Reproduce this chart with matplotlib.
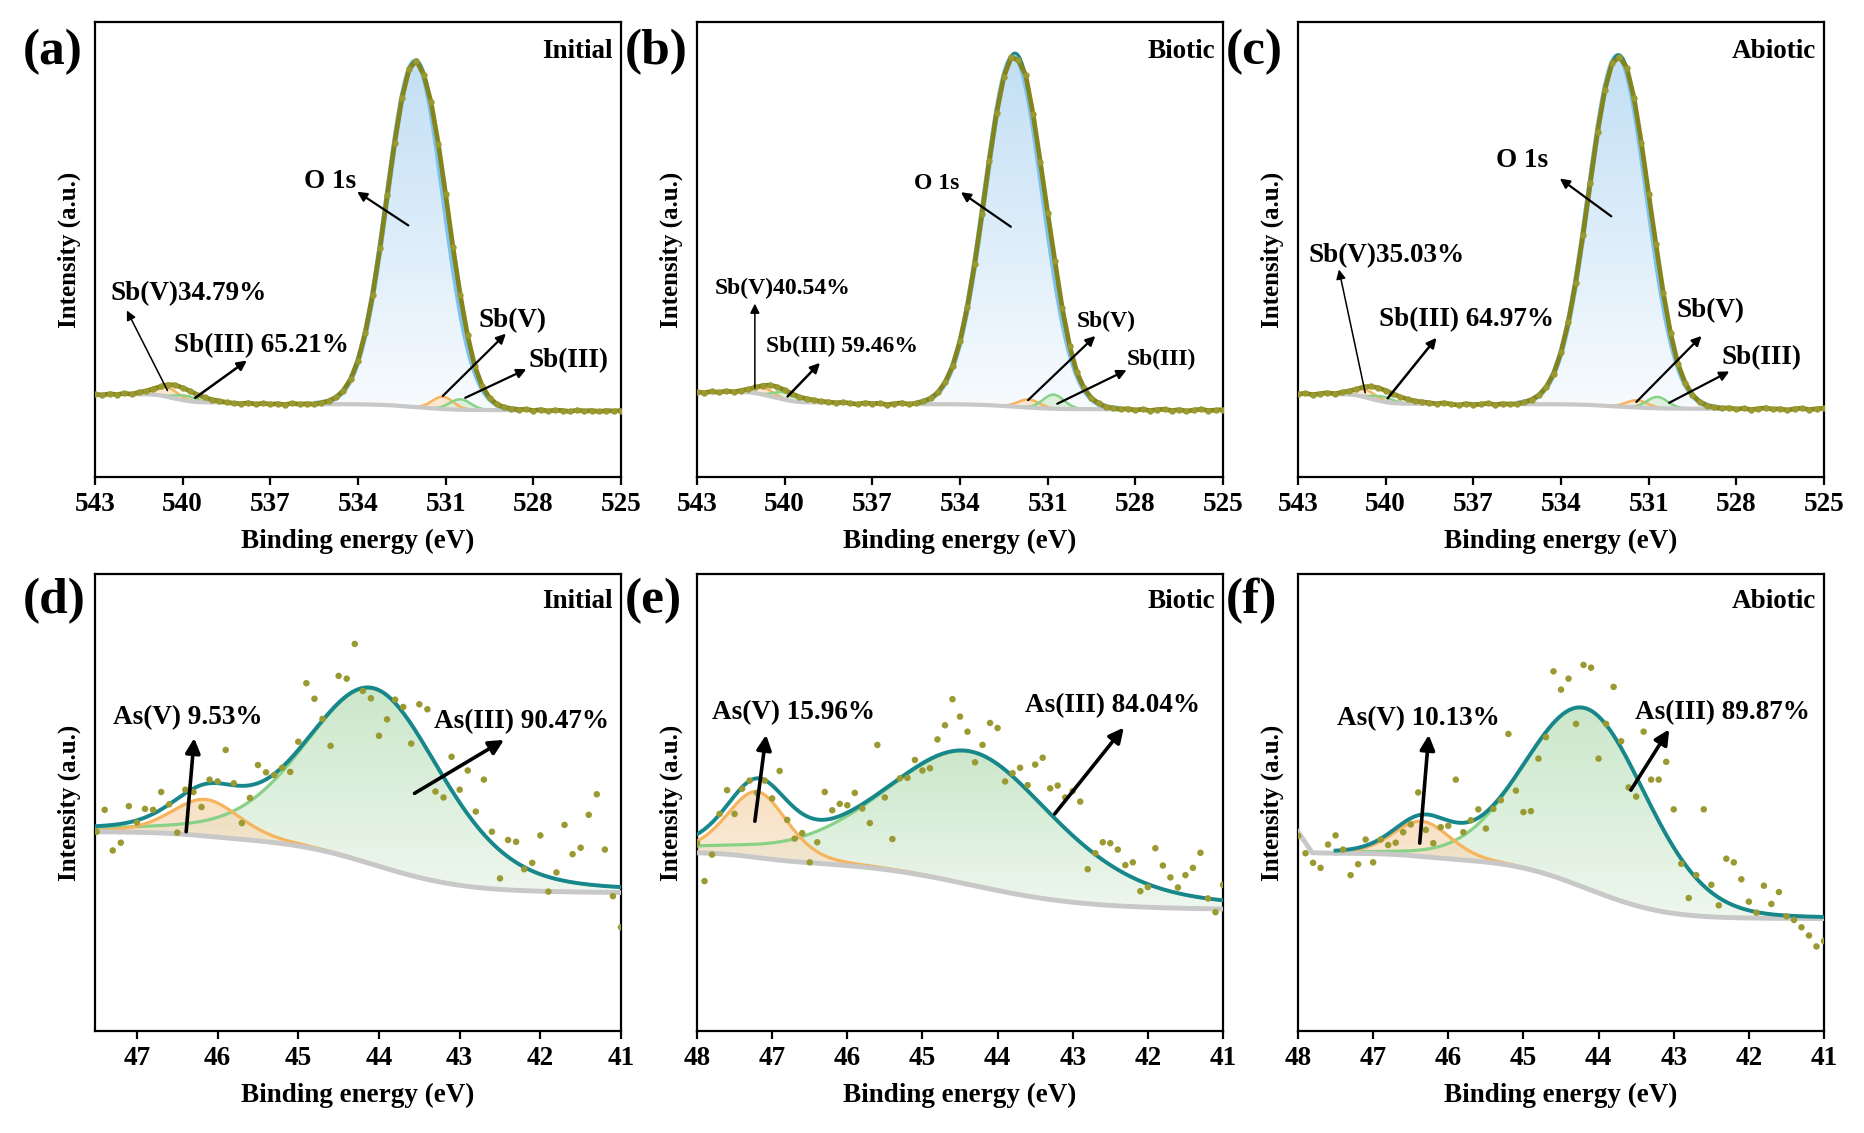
import numpy as np
import matplotlib
matplotlib.use('Agg')
import matplotlib.pyplot as plt
from matplotlib.patches import Polygon
from matplotlib.colors import to_rgba

plt.rcParams['font.family'] = ['Liberation Serif', 'DejaVu Serif']
plt.rcParams['font.weight'] = 'bold'
plt.rcParams['axes.labelweight'] = 'bold'

# ====================== DATA ======================
# ---- top row: Sb 3d / O 1s ----
sb_conditions = ['Initial', 'Biotic', 'Abiotic']
sb_panel_labels = ['(a)', '(b)', '(c)']
sb_xticks = [543, 540, 537, 534, 531, 528, 525]
sb_energy = np.arange(543.0, 524.99, -0.25)          # measured energies (eV)

sb_raw_a = [18.2, 18.0, 18.3, 18.1, 18.4, 18.2, 18.6, 18.9, 19.4, 19.9,
            20.3, 20.2, 19.6, 18.9, 18.1, 17.5, 17.0, 16.7, 16.4, 16.2,
            16.1, 16.3, 16.0, 16.2, 16.0, 16.1, 15.9, 16.2, 16.0, 16.1,
            16.0, 16.3, 16.7,
            17.5, 19.0, 21.5, 25.6, 31.7, 40.0, 50.3, 61.9, 73.4, 83.2,
            89.7, 91.5, 88.4, 82.4, 73.2, 62.1, 50.5, 40.0, 31.1, 24.3,
            20.0, 17.4, 16.0, 15.3, 15.0, 14.8, 14.9, 14.6, 14.8, 14.5,
            14.7, 14.6, 14.4, 14.7, 14.5, 14.6, 14.4, 14.6, 14.5, 14.6]
sb_raw_b = [18.7, 18.5, 18.8, 18.6, 18.9, 18.7, 19.0, 19.3, 19.7, 20.1,
            20.2, 19.8, 19.1, 18.3, 17.6, 17.2, 16.9, 16.6, 16.5, 16.3,
            16.4, 16.2, 16.0, 16.3, 16.1, 16.2, 15.9, 16.1, 16.3, 16.0,
            16.2, 16.6, 17.3,
            18.6, 20.9, 24.4, 29.8, 37.3, 46.8, 57.8, 69.4, 80.0, 88.0,
            92.2, 91.6, 88.3, 79.8, 69.2, 58.1, 47.4, 37.1, 28.9, 23.0,
            19.5, 17.3, 16.2, 15.4, 15.1, 14.9, 15.0, 14.7, 14.9, 14.6,
            14.8, 14.9, 14.6, 14.8, 14.5, 14.7, 14.9, 14.6, 14.7, 14.8]
sb_raw_c = [18.2, 18.4, 18.1, 18.3, 18.5, 18.3, 18.6, 18.9, 19.3, 19.8,
            19.9, 19.6, 19.0, 18.3, 17.6, 17.1, 16.7, 16.5, 16.3, 16.1,
            16.3, 16.0, 15.8, 16.1, 15.9, 16.0, 16.2, 15.9, 16.1, 16.0,
            16.1, 16.4, 17.0,
            18.0, 19.8, 22.7, 27.4, 34.0, 42.7, 53.2, 64.7, 75.9, 85.1,
            91.0, 92.3, 90.0, 83.3, 73.5, 62.2, 51.1, 40.5, 31.6, 24.9,
            20.7, 18.0, 16.5, 15.7, 15.3, 15.1, 15.2, 14.9, 15.1, 14.8,
            15.0, 15.2, 14.9, 15.0, 14.7, 15.0, 15.1, 14.8, 15.0, 15.1]

# fitted peak parameters (center eV, height, FWHM eV)
o1s_center = [532.03, 532.15, 532.05]
o1s_height = [76.0, 77.0, 77.0]
o1s_fwhm = [2.28, 2.35, 2.35]
sb5_52_center = [531.10, 531.65, 531.40]
sb5_52_height = [2.7, 1.8, 1.6]
sb3_52_center = [530.50, 530.80, 530.70]
sb3_52_height = [2.3, 3.1, 2.5]
sb5_32_center = [540.50, 540.75, 540.70]
sb5_32_height = [2.0, 1.6, 1.7]
sb3_32_center = [539.90, 540.00, 540.10]
sb3_32_height = [1.1, 1.6, 1.1]
sb_fwhm = [0.85, 0.85, 0.85]
o_bg_high = [16.0, 16.0, 16.0]
o_bg_low = [14.7, 14.9, 15.0]
sb32_bg_high = [18.2, 18.7, 18.2]
sb32_bg_low = [16.4, 16.4, 16.1]

sb_annot_text = [['O 1s', 'Sb(V)34.79%', 'Sb(III) 65.21%', 'Sb(V)', 'Sb(III)'],
                 ['O 1s', 'Sb(V)40.54%', 'Sb(III) 59.46%', 'Sb(V)', 'Sb(III)'],
                 ['O 1s', 'Sb(V)35.03%', 'Sb(III) 64.97%', 'Sb(V)', 'Sb(III)']]

# ---- bottom row: As 3d ----
as_conditions = ['Initial', 'Biotic', 'Abiotic']
as_panel_labels = ['(d)', '(e)', '(f)']
as_energy_d = np.arange(47.5, 40.95, -0.1)
as_energy_ef = np.arange(48.0, 40.95, -0.1)
as_raw_d = [43.6, 48.4, 39.5, 41.2, 49.2, 45.6, 48.6, 48.4, 52.3, 49.6,
            43.4, 52.8, 52.3, 49.0, 55.0, 54.6, 61.5, 54.2, 45.5, 51.0,
            58.2, 56.6, 56.0, 57.6, 56.7, 63.3, 76.1, 72.7, 68.3, 62.4,
            77.7, 77.1, 84.7, 74.4, 72.8, 64.6, 68.2, 72.5, 70.9, 62.9,
            71.5, 70.4, 52.4, 51.1, 60.0, 52.8, 57.0, 48.0, 55.0, 43.6,
            33.4, 41.8, 41.4, 35.4, 36.8, 42.8, 30.5, 34.7, 45.1, 38.7,
            40.1, 47.3, 51.8, 39.7, 29.5, 22.7]
as_raw_e = [41.1, 32.8, 38.6, 47.5, 52.7, 47.5, 53.0, 54.8, 52.1, 54.8,
            50.9, 56.9, 46.2, 42.1, 43.3, 36.9, 41.3, 52.3, 48.3, 49.7,
            49.4, 52.1, 48.7, 45.5, 62.6, 51.1, 42.0, 55.3, 55.4, 59.3,
            57.0, 57.5, 63.8, 66.9, 72.6, 68.8, 65.5, 58.8, 62.6, 67.4,
            66.3, 54.6, 56.4, 57.6, 53.8, 58.3, 59.8, 53.1, 53.7, 51.1,
            52.5, 50.2, 35.4, 38.9, 41.3, 41.1, 39.7, 36.3, 36.9, 30.6,
            31.5, 40.0, 36.2, 33.6, 31.4, 34.1, 35.7, 39.0, 29.0, 26.0,
            32.0]
as_raw_f = [42.7, 38.9, 36.8, 35.7, 40.8, 42.8, 39.7, 34.1, 36.5, 41.9,
            36.9, 41.9, 40.7, 41.2, 43.5, 45.2, 52.2, 44.0, 41.1, 44.6,
            44.9, 55.0, 43.5, 46.1, 48.5, 44.3, 48.6, 50.5, 65.0, 52.6,
            47.9, 48.1, 59.6, 64.3, 78.7, 74.7, 77.1, 67.2, 80.1, 79.5,
            59.6, 67.2, 75.3, 63.4, 53.3, 51.3, 65.5, 55.0, 55.0, 58.9,
            48.5, 36.6, 29.1, 34.1, 48.5, 32.0, 27.5, 37.7, 36.9, 33.2,
            28.3, 25.9, 31.8, 27.8, 30.4, 25.1, 24.3, 22.7, 20.9, 18.5,
            19.7]
as_xticks = [[47, 46, 45, 44, 43, 42, 41],
             [48, 47, 46, 45, 44, 43, 42, 41],
             [48, 47, 46, 45, 44, 43, 42, 41]]
# leading stub of the background line in panel (f)
f_bg_stub_x = [48.0, 47.81, 47.5]
f_bg_stub_y = [43.6, 39.0, 38.9]

# As fit parameters (center, height, FWHM, Lorentzian fraction)
as5_center = [46.15, 47.20, 46.35]
as5_height = [8.0, 14.4, 7.7]
as5_fwhm = [1.0, 0.95, 0.9]
as5_mix = [0.3, 0.3, 0.2]
as3_center = [44.05, 44.35, 44.15]
as3_height = [38.5, 29.1, 39.3]
as3_fwhm = [2.0, 2.7, 1.9]
as3_mix = [0.3, 0.4, 0.1]
as_bg_high = [43.6, 39.0, 38.9]
as_bg_low = [30.3, 26.7, 24.6]
as_annot_text = [['As(V) 9.53%', 'As(III) 90.47%'],
                 ['As(V) 15.96%', 'As(III) 84.04%'],
                 ['As(V) 10.13%', 'As(III) 89.87%']]

# ====================== LAYOUT / STYLE ======================
W, H = 1865, 1133
top_lefts = [95, 697, 1298]
ax_w = 526
top_y0, top_y1 = 22, 477
bot_y0, bot_y1 = 574, 1031
sb_xlim = (543, 525)
as_xlims = [(47.52, 41), (48, 41), (48, 41)]
as_fit_hi = [47.52, 48.0, 47.5]

# annotation layout: text position, arrow tail, arrow head
sb_annot_pos = [
    [((535.84, 64.9), (532.28, 55.3), (534.03, 62.7)),
     ((542.47, 40.2), (540.52, 19.0), (541.91, 36.6)),
     ((540.31, 28.8), (539.57, 17.4), (537.80, 25.6)),
     ((529.88, 34.3), (531.10, 17.8), (528.94, 31.5)),
     ((528.17, 25.6), (530.33, 17.4), (528.24, 23.7))],
    [((535.58, 64.4), (532.26, 55.0), (533.97, 62.6)),
     ((542.39, 41.4), (541.02, 19.6), (541.02, 38.1)),
     ((540.63, 28.7), (539.90, 17.7), (538.79, 25.1)),
     ((530.02, 34.2), (531.67, 16.9), (529.37, 31.0)),
     ((528.30, 25.9), (530.67, 16.1), (528.30, 23.5))],
    [((536.23, 69.5), (532.28, 57.3), (534.04, 65.6)),
     ((542.65, 48.7), (540.70, 18.5), (541.60, 45.6)),
     ((540.24, 34.6), (539.93, 17.3), (538.26, 30.6)),
     ((530.05, 36.5), (531.42, 16.5), (529.19, 31.0)),
     ((528.52, 26.3), (530.30, 16.3), (528.24, 23.2))]]
sb_annot_lw = [1.6, 1.1, 1.8, 1.6, 1.6]
sb_annot_fs = [19.5, 17.0, 19.5]

as_annot_pos = [
    [((47.30, 68.5), (46.39, 43.6), (46.29, 64.1)),
     ((43.32, 67.7), (43.56, 52.0), (42.45, 63.7))],
    [((47.80, 69.6), (47.23, 45.9), (47.08, 64.8)),
     ((43.63, 71.3), (43.24, 47.5), (42.32, 66.4))],
    [((47.48, 68.4), (46.38, 41.1), (46.26, 64.8)),
     ((43.51, 69.6), (43.57, 52.7), (43.06, 66.0))]]

C_RAW = '#84841c'
C_RAW_M = '#9a9a30'
C_ENV = '#17878c'
C_BLUE = '#7cc2ef'
C_OR = '#f7b45e'
C_GR = '#88d288'
C_GRAY = '#c8c8c8'


def gl(x, c, h, fwhm, m=0.0):
    u = 2.0 * (x - c) / fwhm
    return h * ((1 - m) * np.exp(-np.log(2) * u ** 2) + m / (1 + u ** 2))


def shirley(x_asc, peaks, low, high):
    seg = 0.5 * (peaks[1:] + peaks[:-1]) * np.diff(x_asc)
    cum = np.concatenate([[0.0], np.cumsum(seg)])
    return low + (high - low) * cum / cum[-1]


def grad_fill(ax, x, ytop, ybot, ctop, cbot, z, alpha=1.0):
    verts = np.column_stack([np.concatenate([x, x[::-1]]),
                             np.concatenate([ytop, ybot[::-1]])])
    poly = Polygon(verts, closed=True, facecolor='none', edgecolor='none')
    ax.add_patch(poly)
    n = 256
    c1 = np.array(to_rgba(ctop))
    c2 = np.array(to_rgba(cbot))
    t = np.linspace(1, 0, n)[:, None]
    img = (c1 * t + c2 * (1 - t))[:, None, :]
    im = ax.imshow(img, extent=[x.min(), x.max(), ybot.min(), ytop.max()],
                   origin='upper', aspect='auto', zorder=z, alpha=alpha,
                   interpolation='bilinear')
    im.set_clip_path(poly)


def frame(ax, xticks, xlim):
    for s in ax.spines.values():
        s.set_linewidth(1.6)
    ax.set_xticks(xticks)
    ax.set_xticklabels([str(t) for t in xticks])
    ax.set_yticks([])
    ax.tick_params(axis='x', direction='out', length=6, width=1.6,
                   labelsize=19.5, pad=5)
    ax.set_xlim(*xlim)
    ax.set_ylim(0, 100)
    ax.set_xlabel('Binding energy (eV)', fontsize=19.5, labelpad=8)
    ax.set_ylabel('Intensity (a.u.)', fontsize=18, labelpad=10)


fig = plt.figure(figsize=(W / 100, H / 100), dpi=100)

# ====================== TOP ROW ======================
sb_raws = [sb_raw_a, sb_raw_b, sb_raw_c]
for i in range(3):
    l = top_lefts[i]
    ax = fig.add_axes([l / W, 1 - top_y1 / H, ax_w / W, (top_y1 - top_y0) / H])

    # O 1s + Sb 3d5/2 region
    xf = np.linspace(528.6, 535.4, 600)
    o = gl(xf, o1s_center[i], o1s_height[i], o1s_fwhm[i])
    s5 = gl(xf, sb5_52_center[i], sb5_52_height[i], sb_fwhm[i])
    s3 = gl(xf, sb3_52_center[i], sb3_52_height[i], sb_fwhm[i])
    bg = shirley(xf, o + s5 + s3, o_bg_low[i], o_bg_high[i])
    grad_fill(ax, xf, bg + o, bg, '#c2dff5', '#f8fbfe', 1)
    ax.fill_between(xf, bg, bg + s5, color='#fbe3c8', alpha=0.85, zorder=2, lw=0)
    ax.fill_between(xf, bg, bg + s3, color='#d8efd8', alpha=0.85, zorder=2, lw=0)
    ax.plot(xf, bg + s5, color=C_OR, lw=1.8, zorder=3)
    ax.plot(xf, bg + s3, color=C_GR, lw=1.8, zorder=3)
    ax.plot(xf, bg, color=C_GRAY, lw=3, zorder=3.5)
    ax.plot(xf, bg + o, color=C_BLUE, lw=4, zorder=4)
    ax.plot(xf, bg + o + s5 + s3, color=C_ENV, lw=2, zorder=5)

    # Sb 3d3/2 region
    xl = np.linspace(538.6, 541.7, 300)
    t5 = gl(xl, sb5_32_center[i], sb5_32_height[i], sb_fwhm[i])
    t3 = gl(xl, sb3_32_center[i], sb3_32_height[i], sb_fwhm[i])
    bgl = shirley(xl, t5 + t3, sb32_bg_low[i], sb32_bg_high[i])
    ax.fill_between(xl, bgl, bgl + t5, color='#fbe3c8', alpha=0.85, zorder=2, lw=0)
    ax.fill_between(xl, bgl, bgl + t3, color='#d8efd8', alpha=0.85, zorder=2, lw=0)
    ax.plot(xl, bgl + t5, color=C_OR, lw=1.8, zorder=3)
    ax.plot(xl, bgl + t3, color=C_GR, lw=1.8, zorder=3)
    ax.plot(xl, bgl, color=C_GRAY, lw=3, zorder=3.5)

    # raw data
    ax.plot(sb_energy, sb_raws[i], color=C_RAW, lw=3.4, zorder=6,
            marker='o', ms=3.6, mfc=C_RAW_M, mec=C_RAW_M)

    # annotations
    for k, txt in enumerate(sb_annot_text[i]):
        tp, tail, head = sb_annot_pos[i][k]
        ax.text(tp[0], tp[1], txt, fontsize=sb_annot_fs[i], ha='left',
                va='center', zorder=8)
        ax.annotate('', xy=head, xytext=tail, zorder=8,
                    arrowprops=dict(arrowstyle='-|>', color='k',
                                    lw=sb_annot_lw[k], shrinkA=0, shrinkB=0,
                                    mutation_scale=14))
    ax.text(0.985, 0.935, sb_conditions[i], transform=ax.transAxes,
            fontsize=19.5, ha='right', va='center')
    frame(ax, sb_xticks, sb_xlim)
    fig.text((l - 72) / W, 1 - 52 / H, sb_panel_labels[i], fontsize=37,
             ha='left', va='center')

# ====================== BOTTOM ROW ======================
as_raws = [as_raw_d, as_raw_e, as_raw_f]
as_energies = [as_energy_d, as_energy_ef, as_energy_ef]
for i in range(3):
    l = top_lefts[i]
    ax = fig.add_axes([l / W, 1 - bot_y1 / H, ax_w / W, (bot_y1 - bot_y0) / H])

    xf = np.linspace(41.0, as_fit_hi[i], 600)
    p5 = gl(xf, as5_center[i], as5_height[i], as5_fwhm[i], as5_mix[i])
    p3 = gl(xf, as3_center[i], as3_height[i], as3_fwhm[i], as3_mix[i])
    bg = shirley(xf, p5 + p3, as_bg_low[i], as_bg_high[i])
    grad_fill(ax, xf, bg + p3, bg, '#cbe7cb', '#eef7ee', 1)
    grad_fill(ax, xf, bg + p5, bg, '#f5d4aa', '#f9ecdc', 2, alpha=0.7)
    ax.plot(xf, bg + p3, color=C_GR, lw=2.3, zorder=3)
    ax.plot(xf, bg + p5, color=C_OR, lw=2.3, zorder=3)
    ax.plot(xf, bg, color=C_GRAY, lw=3.5, zorder=3.5)
    if i == 2:
        ax.plot(f_bg_stub_x, f_bg_stub_y, color=C_GRAY, lw=3.5, zorder=3.5)
    ax.plot(xf, bg + p3 + p5, color=C_ENV, lw=2.8, zorder=5)

    ax.scatter(as_energies[i], as_raws[i], s=22, color='#9b9a32',
               edgecolors='none', zorder=6)

    for k, txt in enumerate(as_annot_text[i]):
        tp, tail, head = as_annot_pos[i][k]
        ax.text(tp[0], tp[1], txt, fontsize=19.5, ha='left', va='center',
                zorder=8)
        ax.annotate('', xy=head, xytext=tail, zorder=8,
                    arrowprops=dict(arrowstyle='-|>', color='k', lw=2.6,
                                    shrinkA=0, shrinkB=0, mutation_scale=22))
    ax.text(0.985, 0.94, as_conditions[i], transform=ax.transAxes,
            fontsize=19.5, ha='right', va='center')
    frame(ax, as_xticks[i], as_xlims[i])
    fig.text((l - 72) / W, 1 - 601 / H, as_panel_labels[i], fontsize=37,
             ha='left', va='center')

fig.savefig('out.png', dpi=100)
